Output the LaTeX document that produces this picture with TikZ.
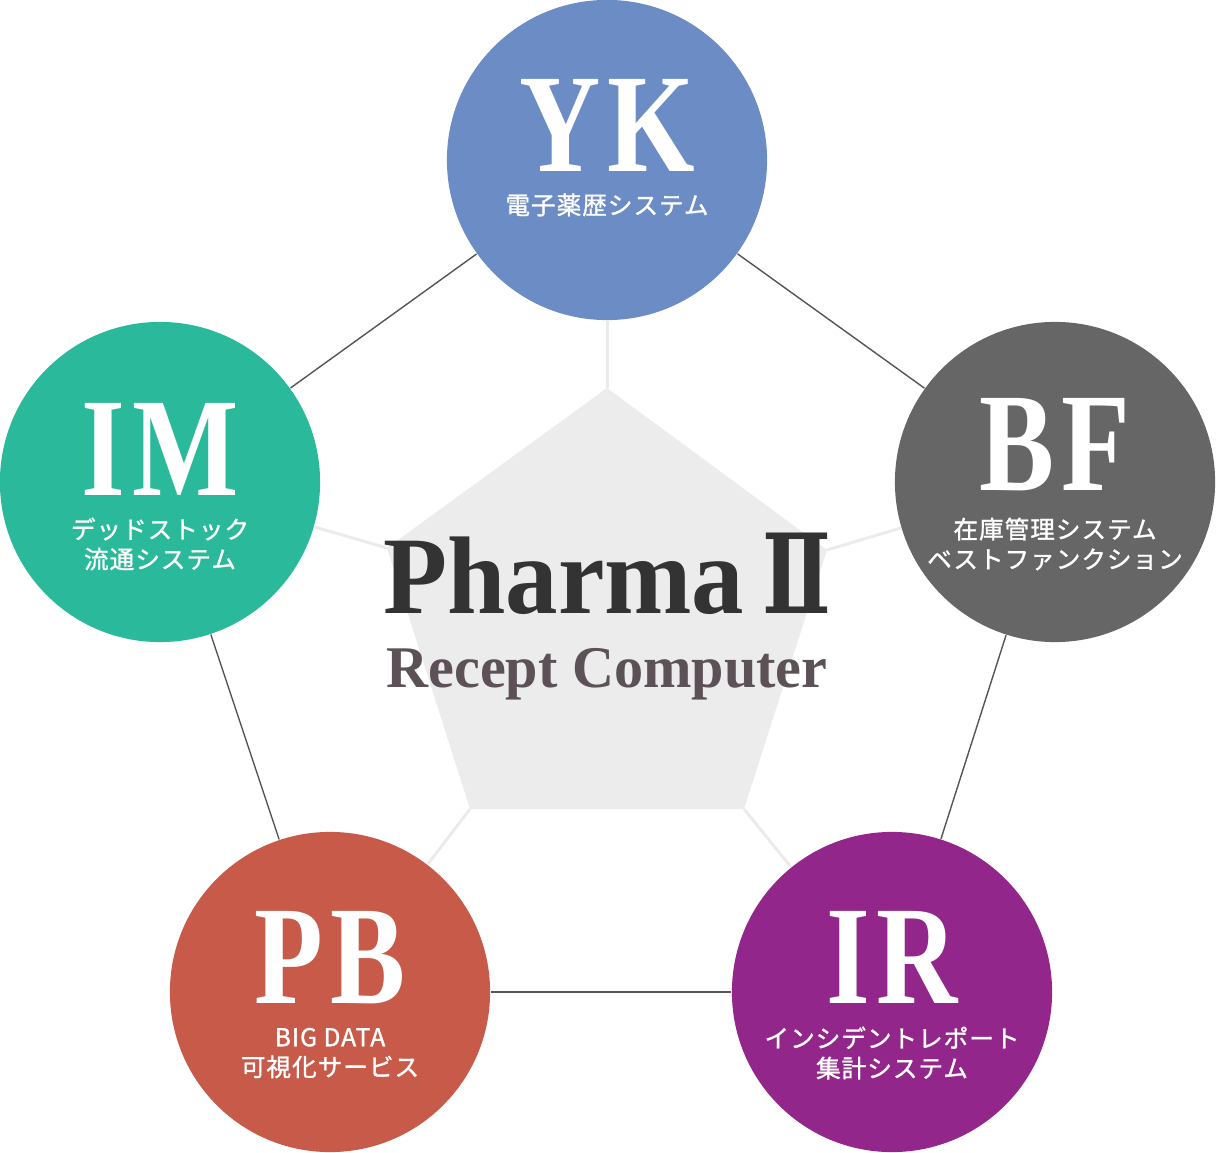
\documentclass[tikz,border=0pt]{standalone}
\usepackage{fontspec}
\usepackage{graphicx}
\setmainfont{Liberation Serif}
\newfontfamily\jpfont{Noto Sans CJK JP}
\newfontfamily\numfont{DejaVu Serif}
\usetikzlibrary{positioning}
\definecolor{ykblue}{HTML}{6B8CC4}
\definecolor{bfgray}{HTML}{666666}
\definecolor{irpurple}{HTML}{93268A}
\definecolor{pbred}{HTML}{C85A4A}
\definecolor{imgreen}{HTML}{2AB99A}
\definecolor{rimgray}{HTML}{555555}
\definecolor{spokegray}{HTML}{EBEBEB}
\definecolor{coregray}{HTML}{ECECEC}
\definecolor{titledark}{HTML}{333333}
\definecolor{subdark}{HTML}{5B5157}
\newcommand{\narrow}[2]{\scalebox{#1}[1]{#2}}

\begin{document}
\begin{tikzpicture}[x=0.01cm, y=-0.01cm,
    ball/.style={circle, minimum size=3.2cm, inner sep=0pt},
    abbr/.style={text=white, anchor=base, inner sep=0pt, text depth=0pt, font=\fontsize{40}{40}\selectfont\bfseries\addfontfeature{LetterSpace=6}},
    sub/.style={text=white, align=center, inner sep=0pt, font=\jpfont\fontsize{7}{8.5}\selectfont\addfontfeature{LetterSpace=4,FakeBold=1.2}},
    rim/.style={draw=rimgray, line width=0.4pt},
    spoke/.style={draw=spokegray, line width=0.85pt}
]
\useasboundingbox (0,0) rectangle (1216,1152);
% the five systems
\node[ball, fill=ykblue] (yk) at (607,160) {};
\node[ball, fill=bfgray] (bf) at (1055,482) {};
\node[ball, fill=irpurple] (ir) at (892,992) {};
\node[ball, fill=pbred] (pb) at (330,992) {};
\node[ball, fill=imgreen] (im) at (160,482) {};
\draw[rim] (yk) -- (bf);
\draw[rim] (bf) -- (ir);
\draw[rim] (ir) -- (pb);
\draw[rim] (pb) -- (im);
\draw[rim] (im) -- (yk);
% inner pentagon
\coordinate (c1) at (607,388);
\coordinate (c2) at (827,550);
\coordinate (c3) at (744,809);
\coordinate (c4) at (470,809);
\coordinate (c5) at (387,548);
\fill[coregray] (c1) -- (c2) -- (c3) -- (c4) -- (c5) -- cycle;
\draw[spoke] (c1) -- (yk);
\draw[spoke] (c2) -- (bf);
\draw[spoke] (c3) -- (ir);
\draw[spoke] (c4) -- (pb);
\draw[spoke] (c5) -- (im);
\node[anchor=base, inner sep=0pt, text=titledark, font=\fontsize{31.4}{31.4}\selectfont\bfseries] (title) at (607,613) {\narrow{0.95}{Pharma}\hspace{5pt}{\numfont\narrow{0.74}{Ⅱ}}};
\node[anchor=base, inner sep=0pt, text=subdark, font=\fontsize{16.8}{16.8}\selectfont\bfseries] (subtitle) at (607,687) {\narrow{0.985}{Recept Computer}};
% labels
\node[abbr] (ykt) at (607,172) {\narrow{0.8}{YK}};
\node[sub] (yks) at (607,205) {電子薬歴システム};
\node[abbr] (bft) at (1055,490) {\narrow{0.8}{BF}};
\node[sub] (bfs) at (1055,544) {在庫管理システム\\ベストファンクション};
\node[abbr] (irt) at (892,1003) {\narrow{0.8}{IR}};
\node[sub] (irs) at (892,1053) {インシデントレポート\\集計システム};
\node[abbr] (pbt) at (330,1003) {\narrow{0.8}{PB}};
\node[sub] (pbs) at (330,1053) {BIG DATA\\可視化サービス};
\node[abbr] (imt) at (160,495) {\narrow{0.8}{IM}};
\node[sub] (ims) at (160,544) {デッドストック\\流通システム};
\end{tikzpicture}
\end{document}
